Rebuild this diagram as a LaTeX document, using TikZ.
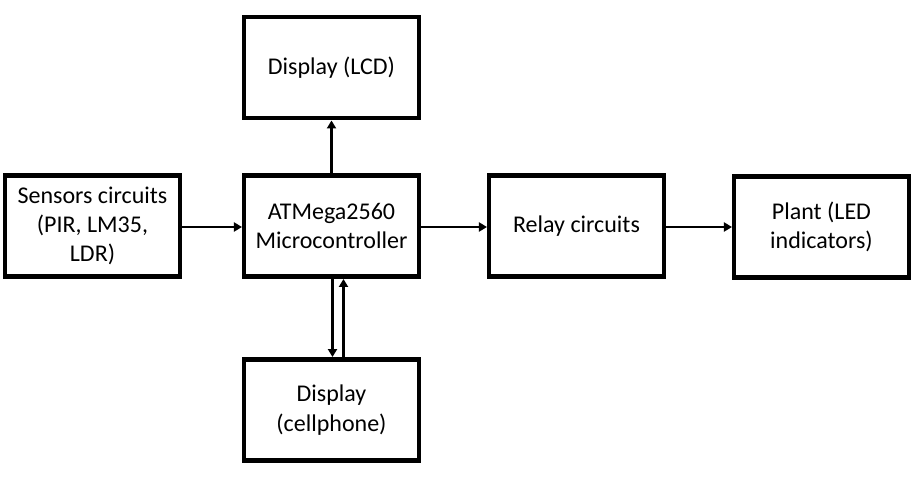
\documentclass[tikz,border=0pt]{standalone}
\usepackage{fontspec}
\setmainfont{Carlito}
\usetikzlibrary{arrows.meta}
\begin{document}
\begin{tikzpicture}[x=0.75pt,y=-0.75pt,
  blk/.style={draw=black, line width=3.375pt, minimum width=130.9pt, minimum height=76.1pt,
    align=center, inner sep=0pt, font=\fontsize{18}{22}\selectfont},
  arr/.style={line width=1.8pt, -{Triangle[length=6pt,width=6.75pt]}}]
\useasboundingbox (0,0) rectangle (922,496);
\node[blk] (lcd)   at (331.5,67.5) {Display (LCD)};
\node[blk] (sens)  at (92.5,226)   {Sensors circuits\\(PIR, LM35,\\LDR)};
\node[blk] (atm)   at (331.5,226)  {ATMega2560\\Microcontroller};
\node[blk] (relay) at (576.5,226)  {Relay circuits};
\node[blk] (plant) at (821.5,227)  {Plant (LED\\indicators)};
\node[blk] (cell)  at (331.5,410)  {Display\\(cellphone)};
\draw[arr] (atm.north) -- (lcd.south);
\draw[arr] ([yshift=-0.75pt]sens.east) -- ([yshift=-0.75pt]atm.west);
\draw[arr] ([yshift=-0.75pt]atm.east) -- ([yshift=-0.75pt]relay.west);
\draw[arr] ([yshift=-0.75pt]relay.east) -- (plant.west);
\draw[arr, line width=2pt] ([xshift=0.75pt]atm.south) -- ([xshift=0.75pt]cell.north);
\draw[arr, line width=1.6pt] ([xshift=9pt]cell.north) -- ([xshift=9pt]atm.south);
\end{tikzpicture}
\end{document}
